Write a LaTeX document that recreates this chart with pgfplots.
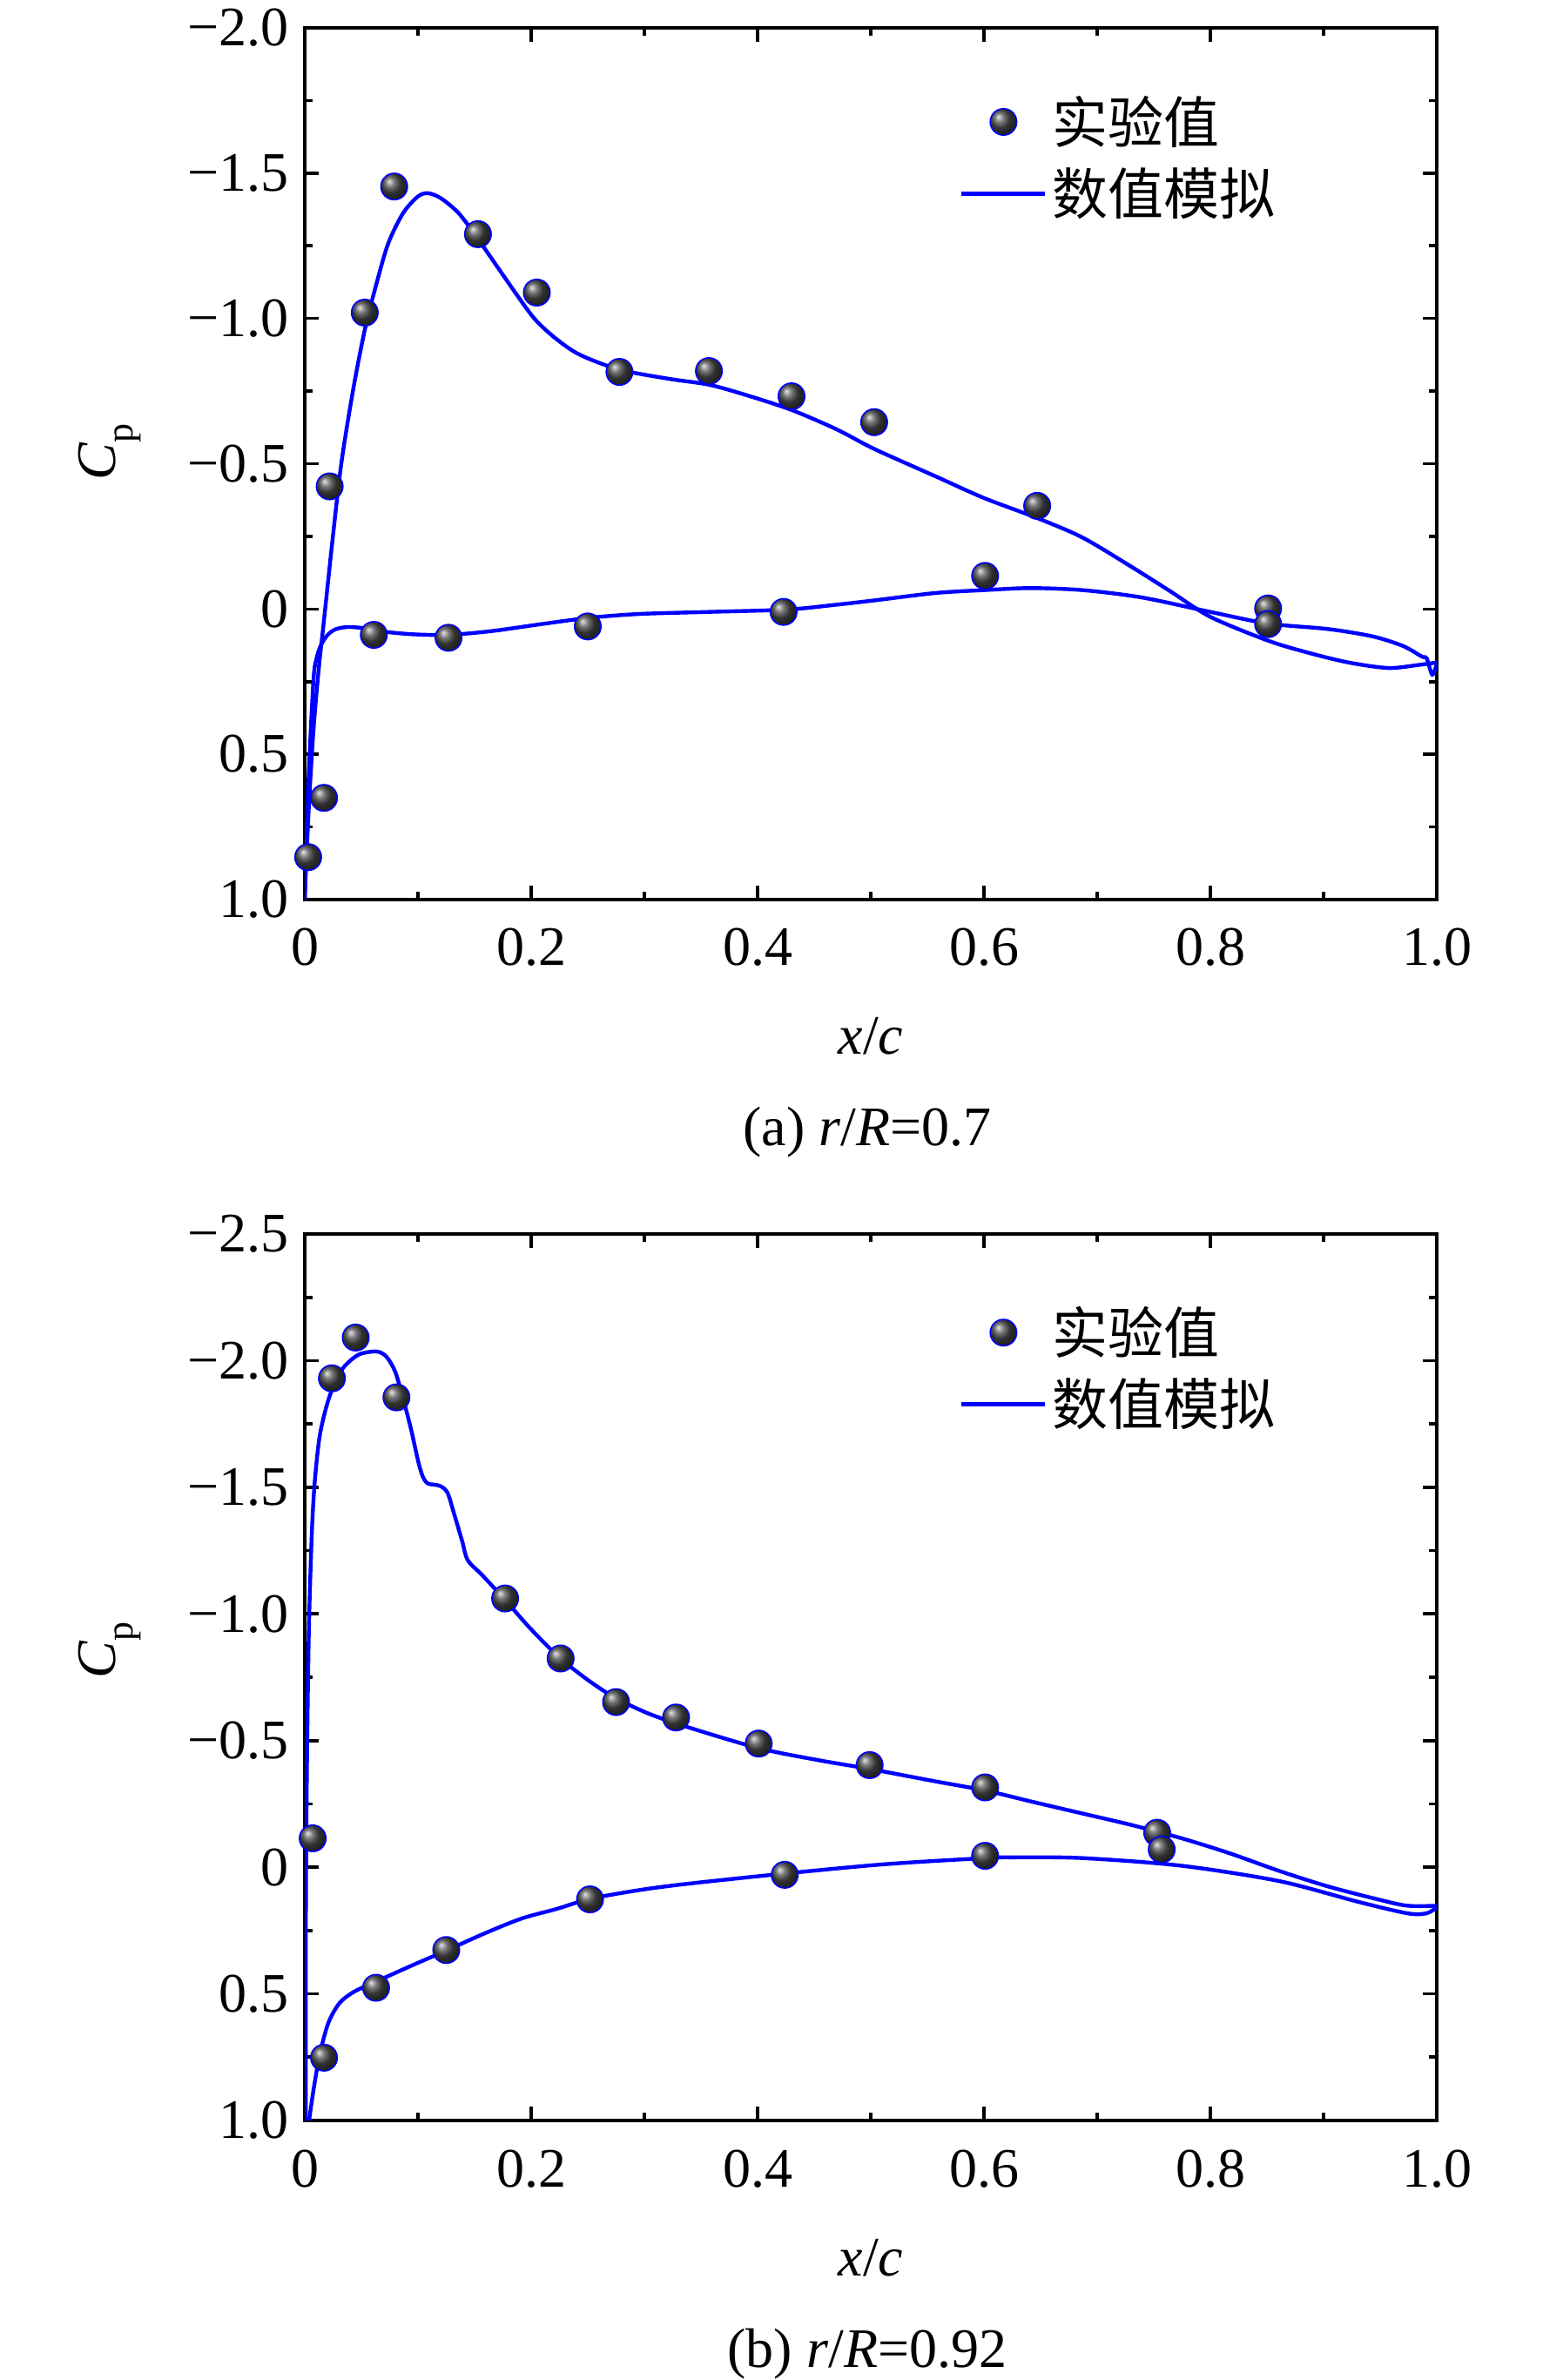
\documentclass[border=0pt]{standalone}
\usepackage{fontspec}
\setmainfont{Liberation Serif}
\newfontfamily\cjk{Noto Sans CJK SC}
\usepackage{pgfplots}
\pgfplotsset{compat=1.18}

\newcommand{\bigfont}{\fontsize{16}{19}\selectfont}

\pgfplotsset{
  cpaxis/.style={
    scale only axis, width=325pt,
    xmin=0, xmax=1, y dir=reverse,
    axis line style={line width=1pt},
    every tick/.style={black, line width=0.9pt},
    major tick length=4pt, minor tick length=2.2pt,
    tick align=inside,
    xtick={0,0.2,0.4,0.6,0.8,1.0},
    xticklabels={0,0.2,0.4,0.6,0.8,1.0},
    minor x tick num=1, minor y tick num=1,
    ticklabel style={font=\bigfont},
    xticklabel style={anchor=base, yshift=-19pt},
    yticklabel style={xshift=-1pt},
    legend cell align=left,
    legend style={draw=none, fill=none, anchor=north west,
      font=\cjk\bigfont, inner sep=0pt, row sep=2.6pt,
      nodes={inner sep=1.5pt}},
  },
  expstyle/.style={only marks, mark=ball, mark size=3.8pt,
    mark options={ball color=black!72},
    legend image code/.code={\draw[mark repeat=2,mark phase=2,##1] plot coordinates {(0pt,0pt) (12pt,0pt) (24pt,0pt)};}},
  simstyle/.style={blue, line width=1.1pt, smooth, no marks,
    legend image code/.code={\draw[##1] (0pt,0pt) -- (24pt,0pt);}},
}

\begin{document}
\begin{tikzpicture}
\path[use as bounding box] (0,0) rectangle (443pt,683.25pt);

% ---------------- (a) r/R = 0.7 ----------------
\begin{axis}[cpaxis, at={(87.5pt,425pt)}, anchor=south west, height=250.25pt,
  ymin=-2, ymax=1,
  ytick={-2,-1.5,-1,-0.5,0,0.5,1},
  yticklabels={−2.0,−1.5,−1.0,−0.5,0,0.5,1.0},
  legend style={at={(axis description cs:0.578,0.929)}}]
\addplot+[expstyle] coordinates {
(0.079,-1.454) (0.153,-1.29) (0.205,-1.089) (0.053,-1.02) (0.278,-0.816)
(0.357,-0.819) (0.430,-0.732) (0.503,-0.643) (0.022,-0.422) (0.647,-0.355)
(0.601,-0.114) (0.851,-0.002) (0.851,0.052) (0.061,0.089) (0.127,0.099)
(0.250,0.060) (0.423,0.010) (0.017,0.650) (0.003,0.854)};
\addlegendentry{实验值}
\addplot[simstyle] coordinates {
(0,1.0) (0.001,0.90) (0.004,0.65) (0.008,0.40) (0.0125,0.20)
(0.0168,0.045) (0.0246,-0.241) (0.0324,-0.504) (0.0428,-0.756) (0.0531,-0.962)
(0.0635,-1.122) (0.0738,-1.259) (0.0868,-1.362) (0.0997,-1.419) (0.1088,-1.431)
(0.1205,-1.413) (0.136,-1.362) (0.1515,-1.282) (0.172,-1.167) (0.193,-1.050)
(0.205,-0.990) (0.222,-0.930) (0.243,-0.875) (0.278,-0.824) (0.322,-0.792)
(0.357,-0.772) (0.391,-0.735) (0.430,-0.685) (0.470,-0.618) (0.503,-0.551)
(0.557,-0.457) (0.600,-0.382) (0.647,-0.313) (0.687,-0.246) (0.730,-0.146)
(0.765,-0.060) (0.800,0.027) (0.851,0.109) (0.887,0.151) (0.922,0.184)
(0.957,0.203) (0.983,0.193) (1.0,0.184)};
\addlegendentry{数值模拟}
\addplot[simstyle, forget plot] coordinates {
(0,1.0) (0.0017,0.759) (0.0043,0.50) (0.0078,0.237) (0.0104,0.170)
(0.0142,0.125) (0.0200,0.090) (0.0270,0.070) (0.0375,0.062) (0.050,0.065)
(0.070,0.078) (0.0957,0.087) (0.127,0.089) (0.165,0.076) (0.209,0.052)
(0.252,0.030) (0.296,0.017) (0.357,0.010) (0.426,0.002) (0.470,-0.015)
(0.504,-0.030) (0.557,-0.055) (0.600,-0.065) (0.641,-0.072) (0.687,-0.065)
(0.739,-0.040) (0.800,0.010) (0.851,0.050) (0.904,0.069) (0.943,0.094)
(0.970,0.127) (0.987,0.164) (0.991,0.169) (0.996,0.226) (1.0,0.189)};
\end{axis}

\node[font=\bigfont, anchor=base] at (250pt,380.5pt) {\textit{x}/\textit{c}};
\node[font=\bigfont, anchor=base] at (249pt,354.25pt) {(a) \textit{r}/\textit{R}=0.7};
\node[font=\bigfont, rotate=90] at (31.5pt,553.5pt) {\textit{C}\raisebox{-0.3em}{\fontsize{11}{12}\selectfont p}};

% ---------------- (b) r/R = 0.92 ----------------
\begin{axis}[cpaxis, at={(87.5pt,74.5pt)}, anchor=south west, height=254.5pt,
  ymin=-2.5, ymax=1,
  ytick={-2.5,-2,-1.5,-1,-0.5,0,0.5,1},
  yticklabels={−2.5,−2.0,−1.5,−1.0,−0.5,0,0.5,1.0},
  legend style={at={(axis description cs:0.578,0.925)}}]
\addplot+[expstyle] coordinates {
(0.045,-2.091) (0.024,-1.930) (0.081,-1.855) (0.177,-1.061) (0.226,-0.824)
(0.275,-0.652) (0.328,-0.591) (0.401,-0.488) (0.499,-0.403) (0.601,-0.315)
(0.753,-0.136) (0.757,-0.070) (0.007,-0.114) (0.601,-0.045) (0.424,0.030)
(0.252,0.127) (0.125,0.327) (0.063,0.476) (0.017,0.752)};
\addlegendentry{实验值}
\addplot[simstyle] coordinates {
(0.001,1.0) (0.0009,0.303) (0.0017,-0.303) (0.0035,-0.909) (0.0061,-1.303)
(0.0087,-1.515) (0.013,-1.697) (0.0191,-1.818) (0.0261,-1.909) (0.0348,-1.976)
(0.0478,-2.024) (0.0635,-2.036) (0.0722,-2.015) (0.080,-1.955) (0.087,-1.848)
(0.094,-1.727) (0.100,-1.606) (0.104,-1.545) (0.1087,-1.515) (0.119,-1.506)
(0.126,-1.479) (0.132,-1.394) (0.139,-1.288) (0.144,-1.212) (0.157,-1.152)
(0.177,-1.055) (0.200,-0.939) (0.226,-0.824) (0.252,-0.733) (0.275,-0.667)
(0.304,-0.606) (0.339,-0.552) (0.401,-0.470) (0.452,-0.424) (0.499,-0.388)
(0.557,-0.339) (0.601,-0.303) (0.643,-0.258) (0.687,-0.212) (0.730,-0.167)
(0.774,-0.115) (0.817,-0.055) (0.861,0.015) (0.904,0.076) (0.948,0.127)
(0.974,0.152) (1.0,0.152)};
\addlegendentry{数值模拟}
\addplot[simstyle, forget plot] coordinates {
(0.0038,1.0) (0.0077,0.880) (0.0131,0.742) (0.0208,0.615) (0.0308,0.536)
(0.0438,0.491) (0.0638,0.450) (0.0946,0.388) (0.1246,0.330) (0.159,0.261)
(0.192,0.202) (0.223,0.164) (0.252,0.125) (0.296,0.090) (0.339,0.065)
(0.424,0.025) (0.513,-0.012) (0.601,-0.036) (0.626,-0.039) (0.687,-0.036)
(0.774,-0.006) (0.861,0.055) (0.930,0.136) (0.974,0.182) (0.991,0.182)
(1.0,0.158)};
\end{axis}

\node[font=\bigfont, anchor=base] at (250pt,30pt) {\textit{x}/\textit{c}};
\node[font=\bigfont, anchor=base] at (249pt,3.75pt) {(b) \textit{r}/\textit{R}=0.92};
\node[font=\bigfont, rotate=90] at (31.5pt,209.5pt) {\textit{C}\raisebox{-0.3em}{\fontsize{11}{12}\selectfont p}};
\end{tikzpicture}
\end{document}
